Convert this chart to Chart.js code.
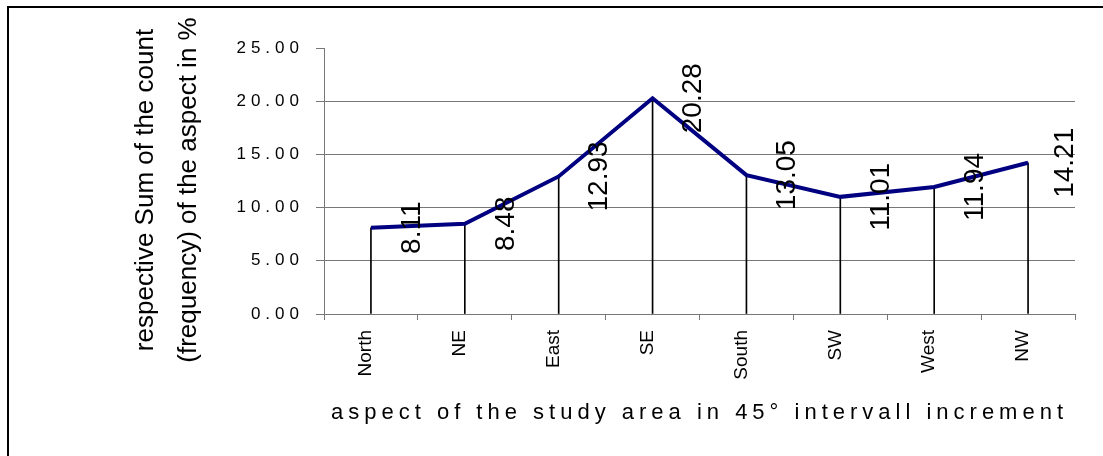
<!DOCTYPE html>
<html>
<head>
<meta charset="utf-8">
<script src="https://cdn.jsdelivr.net/npm/chart.js@4.4.1/dist/chart.umd.min.js"></script>
<style>
  body { margin: 0; background: #fff; }
  #wrap { position: relative; width: 1103px; height: 456px; overflow: hidden; }
  #frame {
    position: absolute; left: 7px; top: 6px; width: 1200px; height: 600px;
    border-left: 2px solid #000; border-top: 2px solid #000; pointer-events: none;
  }
  canvas { position: absolute; left: 0; top: 0; }
</style>
</head>
<body>
<div id="wrap">
  <canvas id="aspectChart" width="1103" height="456"></canvas>
  <div id="frame"></div>
</div>
<script>
const aspectLabels = ["North", "NE", "East", "SE", "South", "SW", "West", "NW"];
const aspectShare = [8.11, 8.48, 12.93, 20.28, 13.05, 11.01, 11.94, 14.21];
const yTicks = [0, 5, 10, 15, 20, 25];
const yTitleLines = ["respective Sum of the count", "(frequency) of the aspect in %"];
const xTitle = "aspect of the study area in 45° intervall increment";

const FONT = "'Liberation Sans', Arial, sans-serif";
const GRID = "#777777";

// Linear scale with spaced-out tick labels and a slightly lowered title
class SpacedLinearScale extends Chart.LinearScale {
  drawLabels(area) {
    this.ctx.save();
    this.ctx.letterSpacing = "5px";
    super.drawLabels(area);
    this.ctx.restore();
  }
  drawTitle() {
    this.ctx.save();
    this.ctx.translate(0, 9);
    super.drawTitle();
    this.ctx.restore();
  }
}
SpacedLinearScale.id = "spacedLinear";
SpacedLinearScale.defaults = Chart.LinearScale.defaults;

// Category scale whose title is letter-spaced
class SpacedCategoryScale extends Chart.CategoryScale {
  drawTitle() {
    this.ctx.save();
    this.ctx.letterSpacing = "5px";
    super.drawTitle();
    this.ctx.restore();
  }
}
SpacedCategoryScale.id = "spacedCategory";
SpacedCategoryScale.defaults = Chart.CategoryScale.defaults;

Chart.register(SpacedLinearScale, SpacedCategoryScale);

// Rotated value labels to the right of each point
const valueLabels = {
  id: "valueLabels",
  afterDatasetsDraw(chart) {
    const meta = chart.getDatasetMeta(0);
    const { ctx, chartArea } = chart;
    ctx.save();
    ctx.font = `28px ${FONT}`;
    ctx.fillStyle = "#000";
    ctx.textAlign = "center";
    ctx.textBaseline = "middle";
    meta.data.forEach((pt, i) => {
      const x = Math.min(pt.x + 41, chartArea.right - 10);
      ctx.save();
      ctx.translate(x, pt.y);
      ctx.rotate(-Math.PI / 2);
      ctx.fillText(aspectShare[i].toFixed(2), 0, 0);
      ctx.restore();
    });
    ctx.restore();
  },
};

const ctx = document.getElementById("aspectChart").getContext("2d");
new Chart(ctx, {
  type: "bar",
  data: {
    labels: aspectLabels,
    datasets: [
      {
        type: "line",
        data: aspectShare,
        borderColor: "#000080",
        borderWidth: 4,
        pointRadius: 0,
        tension: 0,
        order: 0,
      },
      {
        // thin drop lines from each point to the axis
        type: "bar",
        data: aspectShare,
        backgroundColor: "#000",
        barThickness: 1,
        order: 1,
      },
    ],
  },
  options: {
    responsive: false,
    animation: false,
    layout: { padding: { left: 124, right: 28, top: 48, bottom: 0 } },
    plugins: {
      legend: { display: false },
      tooltip: { enabled: false },
    },
    scales: {
      x: {
        type: "spacedCategory",
        offset: true,
        grid: { offset: true, drawOnChartArea: false, tickLength: 6, color: GRID },
        border: { color: GRID, width: 1 },
        ticks: {
          font: { family: FONT, size: 19 },
          color: "#000",
          minRotation: 90,
          maxRotation: 90,
          padding: 10,
          labelOffset: -5,
          autoSkip: false,
        },
        title: {
          display: true,
          text: xTitle,
          font: { family: FONT, size: 22 },
          color: "#000",
          padding: { top: 0, bottom: 30 },
        },
        afterFit: (s) => { s.height = 142; },
      },
      y: {
        type: "spacedLinear",
        min: yTicks[0],
        max: yTicks[yTicks.length - 1],
        ticks: {
          stepSize: yTicks[1] - yTicks[0],
          callback: (v) => v.toFixed(2),
          font: { family: FONT, size: 17 },
          color: "#000",
          padding: 12,
        },
        grid: {
          color: (c) => (c.tick && c.tick.value === yTicks[yTicks.length - 1] ? "rgba(0,0,0,0)" : GRID),
          tickColor: GRID,
          tickLength: 8,
        },
        border: { color: GRID },
        title: {
          display: true,
          text: yTitleLines,
          font: { family: FONT, size: 26, lineHeight: 1.65 },
          color: "#000",
          padding: 0,
        },
        afterFit: (s) => { s.width = 200; },
      },
    },
  },
  plugins: [valueLabels],
});
</script>
</body>
</html>
